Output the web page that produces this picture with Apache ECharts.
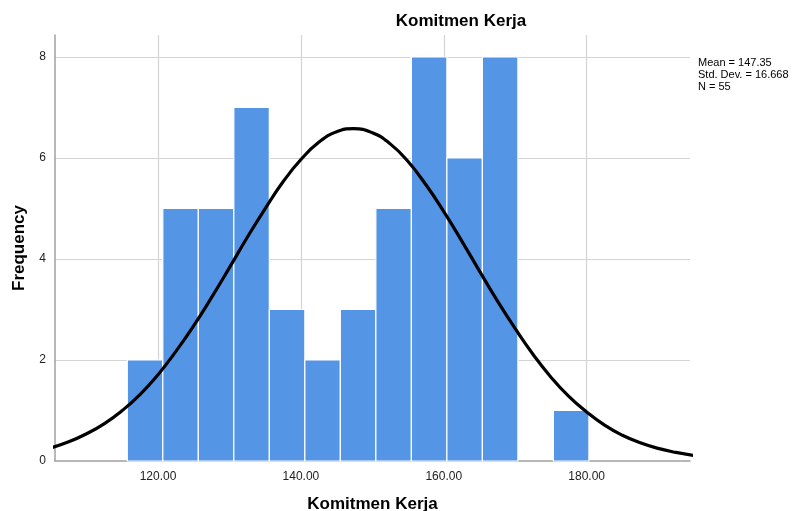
<!DOCTYPE html>
<html>
<head>
<meta charset="utf-8">
<script src="https://cdn.jsdelivr.net/npm/echarts@6/dist/echarts.min.js"></script>
<style>html,body{margin:0;padding:0;background:#fff}#c{width:797px;height:511px}</style>
</head>
<body>
<div id="c"></div>
<script>
const binEdges = [115.7, 120.67, 125.64, 130.61, 135.58, 140.55, 145.52, 150.49, 155.46, 160.43, 165.4, 170.37, 175.34, 180.31];
const counts = [2, 5, 5, 7, 3, 2, 3, 5, 8, 6, 8, 0, 1];
const curveX = [105, 107.5, 110, 112.5, 115, 117.5, 120, 122.5, 125, 127.5, 130, 132.5, 135, 137.5, 140, 142.5, 145, 147.35, 150, 152.5, 155, 157.5, 160, 162.5, 165, 167.5, 170, 172.5, 175, 177.5, 180, 182.5, 185, 187.5, 190, 192.5, 195];
const curveY = [0.26, 0.38, 0.54, 0.74, 1.00, 1.32, 1.71, 2.17, 2.68, 3.24, 3.83, 4.43, 5.00, 5.53, 5.97, 6.31, 6.52, 6.58, 6.50, 6.28, 5.93, 5.47, 4.94, 4.36, 3.76, 3.17, 2.62, 2.11, 1.66, 1.28, 0.97, 0.71, 0.51, 0.36, 0.25, 0.17, 0.11];
const yTicks = [0, 2, 4, 6, 8];
const xTicks = [120, 140, 160, 180];
const statsLines = ['Mean = 147.35', 'Std. Dev. = 16.668', 'N = 55'];
const titleText = 'Komitmen Kerja';
const xName = 'Komitmen Kerja';
const yName = 'Frequency';

const barData = counts.map((c, i) => [binEdges[i], binEdges[i + 1], c]);
const lineData = curveX.map((x, i) => [x, curveY[i]]);

const chart = echarts.init(document.getElementById('c'), null, {renderer: 'canvas'});
const font = '"Liberation Sans", Arial, sans-serif';
const gridColor = '#d4d4d4';
chart.setOption({
  animation: false,
  grid: {left: 55, right: 107, top: 35, bottom: 50, containLabel: false, outerBoundsMode: 'none'},
  xAxis: {
    type: 'value', min: 105.58, max: 194.46,
    name: xName, nameLocation: 'middle', nameGap: 35,
    nameTextStyle: {fontFamily: font, fontSize: 17, fontWeight: 'bold', color: '#000'},
    axisLine: {show: true, lineStyle: {color: '#a0a0a0', width: 1.5}},
    axisTick: {show: false},
    axisLabel: {
      customValues: xTicks,
      fontFamily: font, fontSize: 12, color: '#222', margin: 10,
      formatter: v => Number(v).toFixed(2)
    },
    splitLine: {show: false}
  },
  yAxis: {
    type: 'value', min: 0, max: 8.436, interval: 2,
    name: yName, nameLocation: 'middle', nameGap: 27, nameRotate: 90,
    nameTextStyle: {fontFamily: font, fontSize: 17, fontWeight: 'bold', color: '#000'},
    axisLine: {show: true, lineStyle: {color: '#a0a0a0', width: 1.5}},
    axisTick: {show: false},
    axisLabel: {
      showMaxLabel: false,
      fontFamily: font, fontSize: 12, color: '#222', margin: 9,
      formatter: v => yTicks.includes(v) ? String(v) : ''
    },
    splitLine: {show: true, showMinLine: false, showMaxLine: false, lineStyle: {color: gridColor, width: 1.2}}
  },
  title: {
    text: titleText, left: 456, top: 8, textAlign: 'center',
    textStyle: {fontFamily: font, fontSize: 17, fontWeight: 'bold', color: '#000'}
  },
  graphic: [{
    type: 'text', left: 698, top: 57,
    style: {text: statsLines.join('\n'), fontFamily: font, fontSize: 11, lineHeight: 12, fill: '#000'}
  }],
  series: [
    {
      type: 'line', data: [], z: 1,
      markLine: {
        z: 1, silent: true, symbol: 'none', label: {show: false},
        lineStyle: {color: gridColor, width: 1.2, type: 'solid'},
        data: xTicks.map(v => ({xAxis: v}))
      }
    },
    {
      type: 'custom',
      data: barData,
      encode: {x: [0, 1], y: 2},
      z: 3,
      renderItem: (params, api) => {
        const v = api.value(2);
        if (!v) return null;
        const p0 = api.coord([api.value(0), v]);
        const p1 = api.coord([api.value(1), 0]);
        return {
          type: 'rect',
          shape: {x: p0[0], y: p0[1], width: p1[0] - p0[0], height: p1[1] - p0[1]},
          style: {fill: '#5595e5', stroke: '#ffffff', lineWidth: 1.2}
        };
      }
    },
    {
      type: 'line', data: lineData, smooth: true, showSymbol: false, z: 5,
      clip: true,
      lineStyle: {color: '#000', width: 3.2}
    }
  ]
});
</script>
</body>
</html>
